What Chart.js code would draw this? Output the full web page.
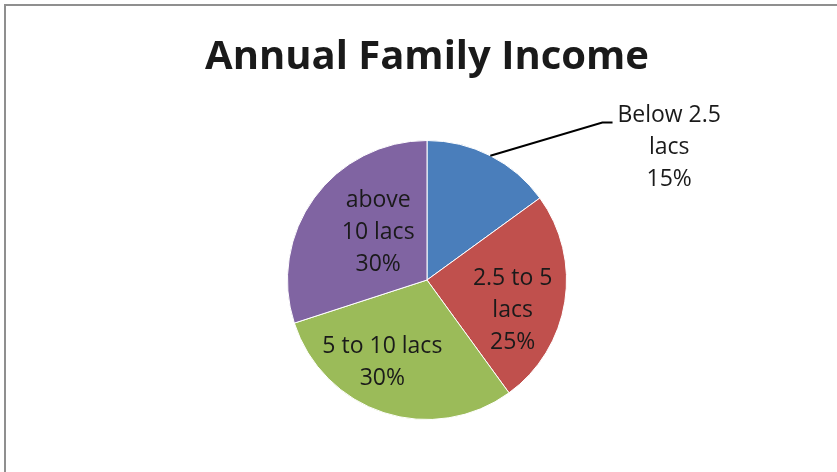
<!DOCTYPE html>
<html>
<head>
<meta charset="utf-8">
<title>Annual Family Income</title>
<script src="https://cdn.jsdelivr.net/npm/chart.js@4/dist/chart.umd.min.js"></script>
<style>
  html, body { margin: 0; padding: 0; background: #fff; }
  #wrap { width: 837px; height: 472px; position: relative; }
</style>
</head>
<body>
<div id="wrap"><canvas id="pieChart" width="837" height="472"></canvas></div>
<script>
// Chart data
const categories = ['Below 2.5 lacs', '2.5 to 5 lacs', '5 to 10 lacs', 'above 10 lacs'];
const shares = [15, 25, 30, 30];
// how each category name is wrapped inside its label
const categoryLines = [['Below 2.5', 'lacs'], ['2.5 to 5', 'lacs'], ['5 to 10 lacs'], ['above', '10 lacs']];

const sliceColors = ['#4A7EBB', '#C0504D', '#9BBB59', '#8064A2'];

// label placement, in multiples of the pie radius from its centre
const labelPlacement = [
  { dx: 1.736, dy: -0.95, leader: { ex: 1.257, ey: -1.129, tx: 1.33 } },
  { dx: 0.614, dy: 0.22 },
  { dx: -0.32, dy: 0.59 },
  { dx: -0.35, dy: -0.34 }
];

const LABEL_FONT = '23px "Open Sans", sans-serif';
const LINE_H = 32;

/**
 * Draws the grey frame at the top and left edge
 */
const framePlugin = {
  id: 'frame',
  beforeDraw(chart) {
    const ctx = chart.ctx;
    ctx.save();
    ctx.strokeStyle = '#8f8f8f';
    ctx.lineWidth = 2;
    ctx.beginPath();
    ctx.moveTo(5, chart.height);
    ctx.lineTo(5, 5);
    ctx.lineTo(chart.width, 5);
    ctx.stroke();
    ctx.restore();
  }
};

/**
 * Writes category + percentage on every slice (one outside with a leader line)
 */
const sliceLabelPlugin = {
  id: 'sliceLabels',
  afterDatasetsDraw(chart) {
    const ctx = chart.ctx;
    const meta = chart.getDatasetMeta(0);
    ctx.save();
    ctx.font = LABEL_FONT;
    ctx.fillStyle = '#1a1a1a';
    ctx.textAlign = 'center';
    ctx.textBaseline = 'middle';

    meta.data.forEach((arc, i) => {
      const p = arc.getProps(['x', 'y', 'outerRadius', 'startAngle', 'endAngle'], true);
      const r = p.outerRadius;
      const place = labelPlacement[i];
      const lines = categoryLines[i].concat([shares[i] + '%']);
      const cx = p.x + place.dx * r;
      const cy = p.y + place.dy * r;

      if (place.leader) {
        const mid = (p.startAngle + p.endAngle) / 2;
        ctx.strokeStyle = '#000';
        ctx.lineWidth = 2;
        ctx.beginPath();
        ctx.moveTo(p.x + Math.cos(mid) * r, p.y + Math.sin(mid) * r);
        ctx.lineTo(p.x + place.leader.ex * r, p.y + place.leader.ey * r);
        ctx.lineTo(p.x + place.leader.tx * r, p.y + place.leader.ey * r);
        ctx.stroke();
      }

      const top = cy - (lines.length - 1) * LINE_H / 2;
      lines.forEach((txt, k) => {
        ctx.fillText(txt, cx, top + k * LINE_H);
      });
    });
    ctx.restore();
  }
};

const ctx = document.getElementById('pieChart').getContext('2d');
const pieChart = new Chart(ctx, {
  type: 'pie',
  data: {
    labels: categories,
    datasets: [{
      data: shares,
      backgroundColor: sliceColors,
      borderColor: '#ffffff',
      borderWidth: 1
    }]
  },
  options: {
    responsive: false,
    animation: false,
    layout: {
      padding: { left: 17, right: 0, top: 0, bottom: 52 }
    },
    plugins: {
      legend: { display: false },
      tooltip: { enabled: false },
      title: {
        display: true,
        text: 'Annual Family Income',
        color: '#1a1a1a',
        font: { family: '"Open Sans", sans-serif', size: 40, weight: 'bold', lineHeight: 1.2 },
        padding: { top: 34, bottom: 58 }
      }
    }
  },
  plugins: [framePlugin, sliceLabelPlugin]
});
</script>
</body>
</html>
